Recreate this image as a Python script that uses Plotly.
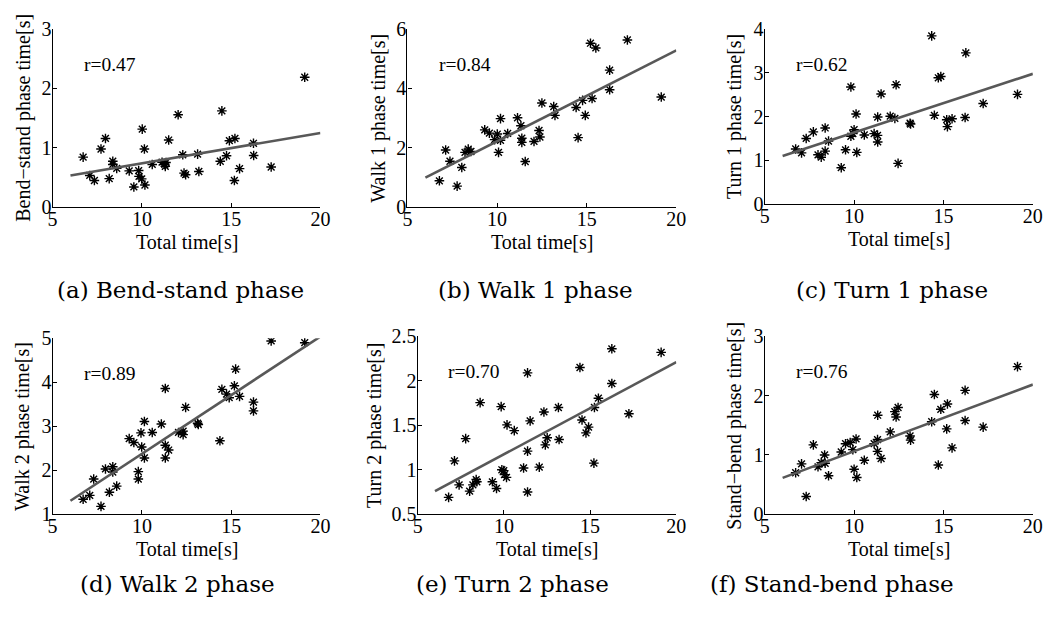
import plotly.graph_objects as go

W, H = 1054, 622

# ---------------- data ----------------
a_x = [6.71, 7.08, 7.34, 7.71, 7.96, 8.17, 8.37, 8.37, 8.59, 9.29, 9.55, 9.82, 9.84, 9.99, 10.02, 10.14, 10.17, 10.58, 11.13, 11.28,
       11.31, 11.35, 11.50, 12.03, 12.29, 12.36, 12.45, 13.12, 13.19, 14.39, 14.48, 14.74, 14.90, 15.21, 15.18, 15.47, 16.25, 16.26, 17.24, 19.12]
a_y = [0.84, 0.53, 0.445, 0.977, 1.156, 0.477, 0.77, 0.716, 0.65, 0.608, 0.336, 0.613, 0.515, 0.472, 1.313, 0.977, 0.369, 0.716, 0.754, 0.716,
       0.684, 0.749, 1.129, 1.557, 0.879, 0.57, 0.543, 0.89, 0.597, 0.77, 1.622, 0.863, 1.118, 1.156, 0.445, 0.646, 1.074, 0.868, 0.673, 2.19]

b_x = [6.78, 7.13, 7.37, 7.77, 8.03, 8.21, 8.39, 8.54, 9.31, 9.57, 9.86, 10.01, 10.08, 10.19, 10.19, 10.59, 11.14, 11.33, 11.38, 11.38,
       11.57, 12.06, 12.34, 12.39, 12.50, 13.16, 13.23, 14.41, 14.52, 14.77, 14.92, 15.21, 15.51, 15.30, 16.28, 16.28, 17.27, 19.16]
b_y = [0.88, 1.92, 1.54, 0.70, 1.33, 1.84, 1.95, 1.87, 2.60, 2.49, 2.27, 2.46, 1.84, 2.98, 2.25, 2.48, 3.01, 2.74, 2.32, 2.18,
       1.53, 2.21, 2.58, 2.36, 3.51, 3.39, 3.09, 3.36, 2.34, 3.60, 3.09, 5.53, 5.37, 3.66, 4.62, 3.96, 5.64, 3.71]

c_x = [6.73, 7.06, 7.32, 7.72, 7.98, 8.16, 8.38, 8.38, 8.57, 9.28, 9.52, 9.82, 9.82, 9.93, 10.00, 10.11, 10.15, 10.57, 11.12, 11.31,
       11.32, 11.32, 11.51, 12.02, 12.28, 12.35, 12.46, 13.13, 13.16, 14.34, 14.49, 14.71, 14.85, 15.18, 15.22, 15.48, 16.21, 16.25, 17.22, 19.14]
c_y = [1.26, 1.17, 1.50, 1.65, 1.125, 1.07, 1.21, 1.74, 1.44, 0.83, 1.24, 2.68, 1.55, 1.61, 1.70, 2.06, 1.18, 1.58, 1.61, 1.57,
       1.42, 1.99, 2.52, 2.01, 1.96, 2.73, 0.93, 1.85, 1.83, 3.85, 2.03, 2.89, 2.92, 1.93, 1.77, 1.95, 1.98, 3.46, 2.30, 2.51]

d_x = [6.71, 7.08, 7.30, 7.71, 7.96, 8.18, 8.37, 8.37, 8.59, 9.29, 9.55, 9.80, 9.80, 9.95, 9.99, 10.14, 10.14, 10.58, 11.09, 11.31,
       11.31, 11.31, 11.50, 12.05, 12.31, 12.31, 12.45, 13.12, 13.16, 14.37, 14.48, 14.74, 14.89, 15.18, 15.25, 15.47, 16.25, 16.25, 17.24, 19.12]
d_y = [1.34, 1.43, 1.80, 1.18, 2.03, 1.50, 2.08, 1.96, 1.64, 2.72, 2.63, 1.97, 1.80, 2.85, 2.53, 3.11, 2.28, 2.86, 3.05, 3.86,
       2.57, 2.28, 2.46, 2.86, 2.89, 2.81, 3.43, 3.07, 3.04, 2.67, 3.84, 3.73, 3.65, 3.92, 4.30, 3.68, 3.55, 3.35, 4.94, 4.90]

e_x = [6.79, 7.13, 7.40, 7.78, 8.01, 8.20, 8.39, 8.43, 8.62, 9.33, 9.57, 9.84, 9.88, 9.99, 10.03, 10.15, 10.18, 10.60, 11.14, 11.37,
       11.37, 11.37, 11.52, 12.05, 12.32, 12.40, 12.51, 13.16, 13.20, 14.41, 14.53, 14.76, 14.91, 15.22, 15.25, 15.48, 16.26, 16.26, 17.25, 19.12]
e_y = [0.69, 1.10, 0.83, 1.35, 0.76, 0.83, 0.89, 0.865, 1.755, 0.865, 0.79, 1.71, 1.00, 0.99, 0.945, 0.915, 1.505, 1.44, 1.02, 2.09,
       1.21, 0.75, 1.55, 1.03, 1.65, 1.28, 1.36, 1.70, 1.34, 2.15, 1.56, 1.415, 1.48, 1.075, 1.70, 1.805, 2.36, 1.97, 1.63, 2.32]

f_x = [6.73, 7.06, 7.32, 7.72, 7.98, 8.16, 8.35, 8.38, 8.57, 9.28, 9.52, 9.78, 9.93, 10.00, 10.11, 10.15, 10.57, 11.12, 11.31, 11.31,
       11.32, 11.51, 12.02, 12.28, 12.35, 12.46, 13.13, 13.16, 14.34, 14.49, 14.71, 14.85, 15.18, 15.22, 15.48, 16.21, 16.21, 17.22, 19.14]
f_y = [0.70, 0.85, 0.30, 1.17, 0.80, 0.87, 1.00, 0.86, 0.65, 1.05, 1.19, 1.21, 1.09, 0.76, 1.27, 0.62, 0.91, 1.19, 1.26, 1.06,
       1.67, 0.94, 1.39, 1.73, 1.64, 1.80, 1.32, 1.25, 1.56, 2.02, 0.83, 1.77, 1.44, 1.86, 1.12, 1.58, 2.09, 1.47, 2.49]

fit_x_range = [6, 20]
fit_slope = [0.0513, 0.307, 0.1346, 0.2667, 0.1036, 0.1124]
fit_intercept = [0.222, -0.853, 0.288, -0.293, 0.138, -0.061]

r_labels = ["r=0.47", "r=0.84", "r=0.62", "r=0.89", "r=0.70", "r=0.76"]
y_titles = ["Bend\u2212stand phase time[s]", "Walk 1 phase time[s]", "Turn 1 phase time[s]",
            "Walk 2 phase time[s]", "Turn 2 phase time[s]", "Stand\u2212bend phase time[s]"]
captions = ["(a) Bend-stand phase", "(b) Walk 1 phase", "(c) Turn 1 phase",
            "(d) Walk 2 phase", "(e) Turn 2 phase", "(f) Stand-bend phase"]
x_title = "Total time[s]"
x_ticks = [5, 10, 15, 20]
y_ranges = [[0, 3], [0, 6], [0, 4], [1, 5], [0.5, 2.5], [0, 3]]
y_ticks = [[0, 1, 2, 3], [0, 2, 4, 6], [0, 1, 2, 3, 4], [1, 2, 3, 4, 5],
           [0.5, 1, 1.5, 2, 2.5], [0, 1, 2, 3]]

series = [(a_x, a_y), (b_x, b_y), (c_x, c_y), (d_x, d_y), (e_x, e_y), (f_x, f_y)]

# ---------------- layout (pixel boxes) ----------------
boxes = [  # left, right, top, bottom in pixels
    (48.3, 320.0, 19.0, 203.0),
    (408.3, 681.0, 19.0, 203.0),
    (770.7, 1042.7, 19.0, 200.0),
    (48.3, 320.0, 339.3, 521.7),
    (418.7, 681.0, 337.3, 521.7),
    (770.7, 1042.7, 337.3, 521.7),
]
ytitle_cx = [18, 378, 740, 18, 375, 740]
caption_pos = [(178, 289), (538, 289), (900, 289), (175, 594), (515, 594), (839, 594)]

SERIF = "Liberation Serif"
fig = go.Figure()
layout = dict(
    width=W, height=H, margin=dict(l=0, r=0, t=0, b=0),
    paper_bgcolor="white", plot_bgcolor="white", showlegend=False,
    font=dict(family=SERIF, color="black"),
)
annotations = []

for i, ((xs, ys), (l, r, t, b)) in enumerate(zip(series, boxes)):
    n = i + 1
    xa = "x" if n == 1 else f"x{n}"
    ya = "y" if n == 1 else f"y{n}"
    fig.add_trace(go.Scatter(
        x=xs, y=ys, mode="markers", xaxis=xa, yaxis=ya,
        marker=dict(symbol="asterisk", size=8, color="black",
                    line=dict(color="black", width=1.4)),
    ))
    fx = fit_x_range
    fy = [fit_slope[i] * v + fit_intercept[i] for v in fx]
    fig.add_trace(go.Scatter(
        x=fx, y=fy, mode="lines", xaxis=xa, yaxis=ya,
        line=dict(color="#585858", width=2.6),
    ))
    common = dict(showline=True, linecolor="black", linewidth=1.3, mirror=False,
                  showgrid=False, zeroline=False, ticks="inside", ticklen=4,
                  tickcolor="black", tickwidth=1.2,
                  tickfont=dict(family=SERIF, size=20, color="black"))
    layout[f"xaxis{'' if n == 1 else n}"] = dict(
        domain=[l / W, r / W], anchor=ya, range=[5, 20],
        tickvals=x_ticks, ticklabelstandoff=-6, **common)
    layout[f"yaxis{'' if n == 1 else n}"] = dict(
        domain=[1 - b / H, 1 - t / H], anchor=xa, range=y_ranges[i],
        tickvals=y_ticks[i], ticklabelstandoff=-4, **common)
    # r label
    annotations.append(dict(
        text=r_labels[i], xref=f"{xa} domain", yref=f"{ya} domain",
        x=0.11, y=0.80, xanchor="left", yanchor="middle", showarrow=False,
        font=dict(family=SERIF, size=19.5, color="black")))
    # x title
    annotations.append(dict(
        text=x_title, xref="paper", yref="paper",
        x=((l + r) / 2) / W, y=1 - (b + 36) / H, xanchor="center", yanchor="middle",
        showarrow=False, font=dict(family=SERIF, size=20, color="black")))
    # y title
    annotations.append(dict(
        text=y_titles[i], xref="paper", yref="paper", textangle=-90,
        x=ytitle_cx[i] / W, y=1 - ((t + b) / 2) / H, xanchor="center", yanchor="middle",
        showarrow=False, font=dict(family=SERIF, size=20, color="black")))
    # caption
    cx, cy = caption_pos[i]
    annotations.append(dict(
        text=captions[i], xref="paper", yref="paper",
        x=cx / W, y=1 - cy / H, xanchor="center", yanchor="middle",
        showarrow=False, font=dict(family="DejaVu Serif", size=23, color="black")))

layout["annotations"] = annotations
fig.update_layout(**layout)
fig.write_html("out.html")
